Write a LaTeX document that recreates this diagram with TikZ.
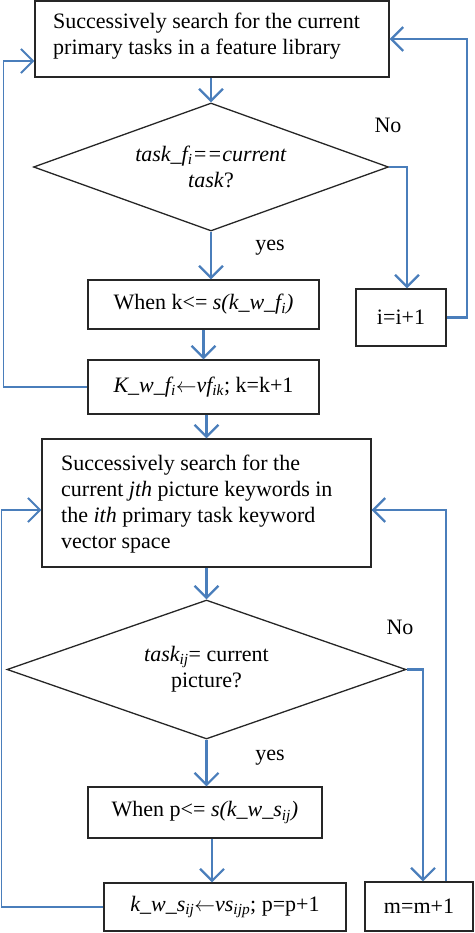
\documentclass[tikz,border=0pt]{standalone}
\usepackage{fontspec}
\setmainfont{Liberation Serif}
\usetikzlibrary{arrows.meta,shapes.geometric,calc}
\definecolor{flowblue}{HTML}{4A7EBB}
\newcommand{\myarrow}{\ensuremath{\leftarrow}}
\tikzset{
  x=1pt, y=-1pt,
  every node/.style={font=\fontsize{22}{26}\selectfont},
  procbox/.style={draw=black!85, line width=1.3pt, rectangle, inner sep=0pt},
  decbox/.style={draw=black!85, line width=1.3pt, diamond, aspect=2.8, inner sep=0pt, align=center},
  flow/.style={draw=flowblue, line width=2.2pt, -{Straight Barb[length=12pt,width=24pt,line width=2.2pt]}},
  loopline/.style={draw=flowblue, line width=1.6pt, -{Straight Barb[length=12pt,width=24pt,line width=2pt]}},
  plain/.style={draw=flowblue, line width=2.2pt},
  lbl/.style={inner sep=0pt}
}
\begin{document}
\begin{tikzpicture}
\useasboundingbox (0,0) rectangle (474,933);
% nodes
\node[procbox, minimum width=354pt, minimum height=76pt] (b1) at (212,39) {};
\node[align=left, inner sep=0pt, anchor=west] (t1) at (53,36) {Successively search for the current\\primary tasks in a feature library};
\node[decbox, minimum width=355pt, minimum height=128pt] (d1) at (211,167) {\textit{task\_f\textsubscript{i}==current}\\\textit{task}?};
\node[procbox, minimum width=231pt, minimum height=49pt] (b2) at (203.5,304.5) {When k<= \textit{s(k\_w\_f\textsubscript{i})}};
\node[procbox, minimum width=231pt, minimum height=54pt] (b3) at (203.5,387) {\textit{K\_w\_f\textsubscript{i}}\myarrow\textit{vf\textsubscript{ik}}; k=k+1};
\node[procbox, minimum width=90pt, minimum height=57pt] (ib) at (401,317.5) {i=i+1};
\node[procbox, minimum width=329pt, minimum height=128pt] (b4) at (206.5,503) {};
\node[align=left, inner sep=0pt, anchor=west] (t4) at (61,504) {Successively search for the\\current \textit{jth} picture keywords in\\the \textit{ith} primary task keyword\\vector space};
\node[decbox, minimum width=399pt, minimum height=139pt] (d2) at (206.5,669.5) {\textit{task\textsubscript{ij}}= current\\picture?};
\node[procbox, minimum width=234pt, minimum height=51pt] (b5) at (205,812.5) {When p<= \textit{s(k\_w\_s\textsubscript{ij})}};
\node[procbox, minimum width=242pt, minimum height=48pt] (b6) at (225,907) {\textit{k\_w\_s\textsubscript{ij}}\myarrow\textit{vs\textsubscript{ijp}}; p=p+1};
\node[procbox, minimum width=108pt, minimum height=49pt] (mb) at (419,906.5) {m=m+1};
% labels
\node[lbl] (no1) at (388,125) {No};
\node[lbl] (yes1) at (270,248) {yes};
\node[lbl] (no2) at (400,627) {No};
\node[lbl] (yes2) at (270,758) {yes};
% connectors
\draw[flow] (b1.south -| d1.north) -- (d1.north);
\draw[flow] (d1.east) -| ([xshift=6pt]ib.north);
\draw[flow] (ib.east) -- ++(20,0) |- (b1.east);
\draw[flow] (d1.south) -- (d1.south |- b2.north);
\draw[flow] (b3.north |- b2.south) -- (b3.north);
\draw[loopline] (b3.west) -- ++(-84,0) |- ($(b1.west)+(0,22)$);
\draw[flow] (b4.north |- b3.south) -- (b4.north);
\draw[flow] (b4.south) -- (d2.north);
\draw[flow] (d2.east) -| ([xshift=4pt]mb.north);
\draw[plain] ([xshift=27pt]mb.north) |- coordinate (c4) ($(b4.east)+(0,7)$);
\draw[flow] (c4) -- ($(b4.east)+(0,7)$);
\draw[flow] (d2.south) -- (d2.south |- b5.north);
\draw[flow] (b6.north |- b5.south) ++(-13,0) -- ([xshift=-13pt]b6.north);
\draw[loopline] (b6.west) -- ++(-102,0) |- ($(b4.west)+(0,7)$);
\end{tikzpicture}
\end{document}
